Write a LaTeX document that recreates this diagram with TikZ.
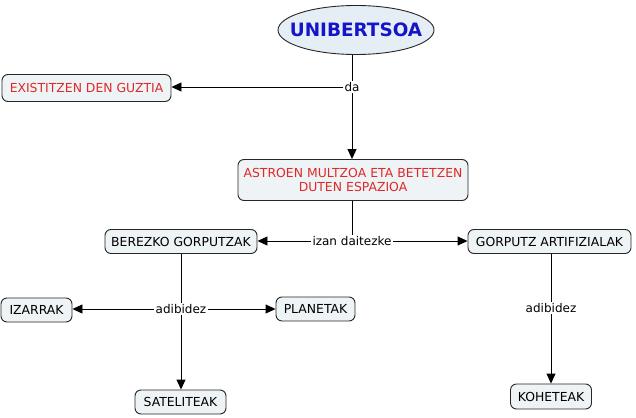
\documentclass[tikz,border=0pt]{standalone}
\usepackage{fontspec}
\setmainfont{DejaVu Sans}
\usetikzlibrary{arrows.meta,shapes.geometric}
\definecolor{boxfill}{HTML}{EEF3F5}
\definecolor{ellfill}{HTML}{E6EEF5}
\definecolor{cred}{HTML}{E02828}
\definecolor{cblue}{HTML}{1414C8}
\tikzset{
  concept/.style={draw=black!85, line width=0.9pt, rounded corners=6pt, fill=boxfill,
    font=\fontsize{12.4}{14.5}\selectfont, inner xsep=4pt, inner ysep=4pt, align=center},
  link/.style={fill=white, inner sep=1.5pt, font=\fontsize{12}{14}\selectfont},
  conn/.style={line width=0.9pt, draw=black},
  arr/.style={conn, -{Triangle[length=10pt,width=9pt]}},
}
\begin{document}
\begin{tikzpicture}[x=1pt,y=-1pt]
\useasboundingbox (0,0) rectangle (636,417);
\node[ellipse, draw=black!85, line width=0.9pt, fill=ellfill, minimum width=156pt, minimum height=49pt, inner sep=0pt] (uni) at (356,30) {};
\node[font=\fontsize{18.4}{20}\selectfont\bfseries, text=cblue, inner sep=0pt] (unitxt) at (uni.center) {UNIBERTSOA};
\node[concept, text=cred, minimum width=169pt, minimum height=27pt] (exi) at (86.5,88) {EXISTITZEN DEN GUZTIA};
\node[concept, text=cred, minimum width=230pt, minimum height=41pt, text width=222pt, inner ysep=3pt] (ast) at (353,180) {ASTROEN MULTZOA ETA BETETZEN\\DUTEN ESPAZIOA};
\node[concept, minimum width=152pt, minimum height=24pt] (ber) at (181,241.5) {BEREZKO GORPUTZAK};
\node[concept, minimum width=163pt, minimum height=24pt] (art) at (549.5,241.5) {GORPUTZ ARTIFIZIALAK};
\node[concept, minimum width=71pt, minimum height=24pt] (iza) at (36.5,310) {IZARRAK};
\node[concept, minimum width=79pt, minimum height=24pt] (pla) at (315.5,309) {PLANETAK};
\node[concept, minimum width=91pt, minimum height=24pt] (sat) at (180.5,402) {SATELITEAK};
\node[concept, minimum width=81pt, minimum height=25pt] (koh) at (551,396.5) {KOHETEAK};

\node[link] (da) at (352,87) {da};
\node[link] (izan) at (352,241) {izan daitezke};
\node[link] (adi1) at (181,309) {adibidez};
\node[link] (adi2) at (551,308) {adibidez};

\draw[conn] (uni.south -| da) -- (da);
\draw[arr] (da) -- (ast.north -| da);
\draw[arr] (da) -- (exi.east |- da);
\draw[conn] (ast.south -| izan) -- (izan);
\draw[arr] (izan) -- (ber.east |- izan);
\draw[arr] (izan) -- (art.west |- izan);
\draw[conn] (ber.south -| adi1) -- (adi1);
\draw[arr] (adi1) -- (iza.east |- adi1);
\draw[arr] (adi1) -- (pla.west |- adi1);
\draw[arr] (adi1) -- (sat.north -| adi1);
\draw[conn] (art.south -| adi2) -- (adi2);
\draw[arr] (adi2) -- (koh.north -| adi2);
\end{tikzpicture}
\end{document}
